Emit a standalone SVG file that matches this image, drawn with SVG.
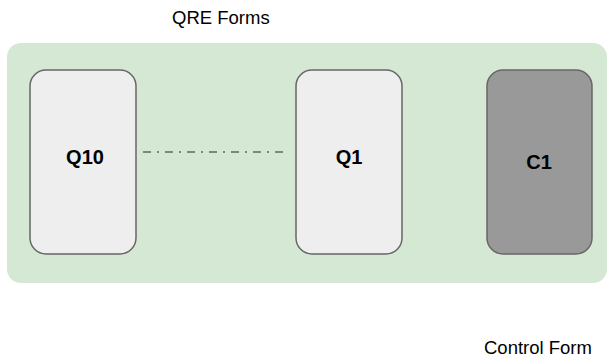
<svg xmlns="http://www.w3.org/2000/svg" width="608" height="359" viewBox="0 0 608 359">
<style>
.lbl{font-family:"Liberation Sans",Arial,sans-serif;font-size:18.5px;fill:#000}
.nl{font-family:"Liberation Sans",Arial,sans-serif;font-size:20px;font-weight:bold;fill:#000;text-anchor:middle}
.box{stroke:#666666;stroke-width:1.5}
</style>
<rect width="608" height="359" fill="#ffffff"/>
<g id="container">
<rect x="7" y="43" width="600" height="240" rx="14" fill="#d5e8d4"/>
</g>
<g id="connectors">
<line x1="143" y1="152" x2="283" y2="152" stroke="#666666" stroke-width="1.6" stroke-dasharray="8 6 2 6"/>
</g>
<g id="q10">
<rect class="box" x="30" y="70" width="106" height="184" rx="16" fill="#eeeeee"/>
<text class="nl" x="85" y="164">Q10</text>
</g>
<g id="q1">
<rect class="box" x="296" y="70" width="106" height="184" rx="16" fill="#eeeeee"/>
<text class="nl" x="349" y="164">Q1</text>
</g>
<g id="c1">
<rect class="box" x="487" y="70" width="105" height="184" rx="16" fill="#999999"/>
<text class="nl" x="539" y="169">C1</text>
</g>
<g id="labels">
<text class="lbl" x="172" y="24">QRE Forms</text>
<text class="lbl" x="484" y="354">Control Form</text>
</g>
</svg>
